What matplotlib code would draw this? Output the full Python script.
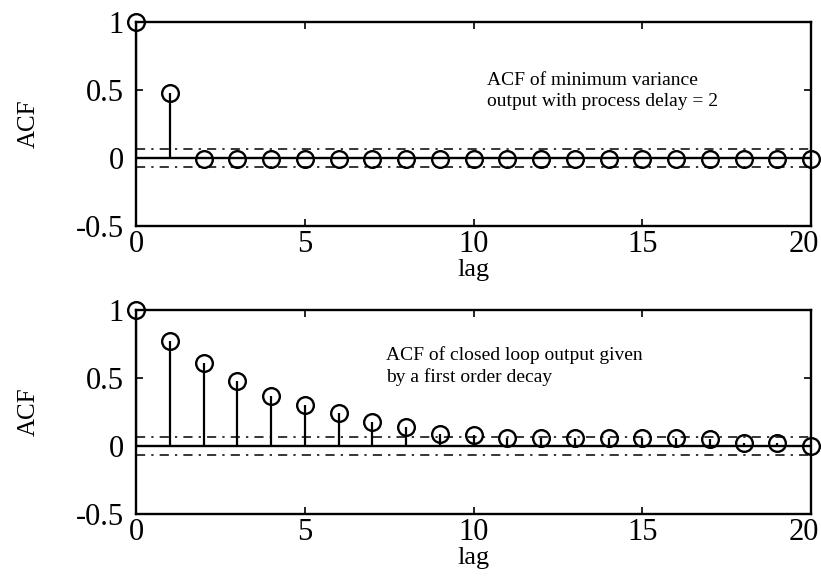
import numpy as np
import matplotlib
matplotlib.use("Agg")
import matplotlib.pyplot as plt
import matplotlib.transforms as mtransforms

# ACF values
lags = list(range(21))
acf_minvar = [1.0, 0.48] + [-0.01] * 19
acf_closed = [1.0, 0.77, 0.61, 0.48, 0.37, 0.30, 0.24, 0.18, 0.14, 0.09, 0.08,
              0.06, 0.06, 0.06, 0.06, 0.06, 0.06, 0.05, 0.02, 0.02, 0.0]
conf_bound = 0.063

titles = ["ACF of minimum variance\noutput with process delay = 2",
          "ACF of closed loop output given\nby a first order decay"]
text_pos = [(10.4, 0.495), (7.4, 0.585)]

plt.rcParams['font.family'] = ['Liberation Serif', 'DejaVu Serif']

fig = plt.figure(figsize=(8.21, 5.84), dpi=100)
axes = [fig.add_axes([0.1657, 0.613, 0.8223, 0.3493]),
        fig.add_axes([0.1657, 0.1199, 0.8223, 0.3493])]

for ax, acf, txt, pos in zip(axes, [acf_minvar, acf_closed], titles, text_pos):
    ax.vlines(lags, 0, acf, color='black', linewidth=1.6)
    ax.plot(lags, acf, 'o', markerfacecolor='none', markeredgecolor='black',
            markersize=12, markeredgewidth=1.7, clip_on=False, zorder=3)
    ax.axhline(0, color='black', linewidth=1.7)
    ax.axhline(conf_bound, color='black', linestyle=(0, (6, 4, 1.5, 4)), linewidth=1.1)
    ax.axhline(-conf_bound, color='black', linestyle=(0, (6, 4, 1.5, 4)), linewidth=1.1)
    ax.set_xlim(0, 20)
    ax.set_ylim(-0.5, 1)
    ax.set_xticks([0, 5, 10, 15, 20])
    ax.set_yticks([-0.5, 0, 0.5, 1])
    ax.set_yticklabels(['-0.5', '0', '0.5', '1'])
    ax.tick_params(direction='in', top=True, right=True, length=5, width=1.2,
                   labelsize=22)
    ax.tick_params(axis='y', pad=9)
    ax.tick_params(axis='x', pad=3)
    # keep the last x label inside the figure
    last = ax.get_xticklabels()[-1]
    last.set_transform(last.get_transform() +
                       mtransforms.ScaledTranslation(-7 / 100, 0, fig.dpi_scale_trans))
    for s in ax.spines.values():
        s.set_linewidth(1.7)
    ax.set_xlabel('lag', fontsize=19, labelpad=0)
    ax.set_ylabel('ACF', fontsize=18, labelpad=26)
    ax.text(pos[0], pos[1], txt, fontsize=14, ha='left', va='center',
            linespacing=1.3)

fig.savefig('out.png', dpi=100)
